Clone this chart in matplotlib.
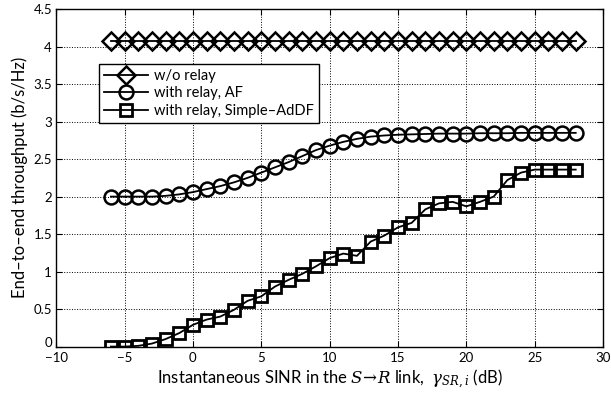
import numpy as np
import matplotlib.pyplot as plt

plt.rcParams['font.family'] = ['Lato', 'DejaVu Sans']
plt.rcParams['mathtext.fontset'] = 'dejavuserif'

# SINR del enlace S->R (dB)
snr = np.arange(-6, 29)

# Throughput extremo a extremo (b/s/Hz)
no_relay = [4.08] * 35
relay_af = [2.00, 2.00, 2.00, 2.00, 2.01, 2.03, 2.06, 2.10, 2.14, 2.19,
            2.25, 2.32, 2.39, 2.46, 2.54, 2.62, 2.68, 2.73, 2.77, 2.80,
            2.815, 2.825, 2.83, 2.835, 2.84, 2.84, 2.84, 2.845, 2.845, 2.845,
            2.85, 2.85, 2.85, 2.85, 2.85]
relay_addf = [0.00, 0.00, 0.01, 0.04, 0.10, 0.18, 0.29, 0.36, 0.40, 0.49,
              0.61, 0.67, 0.80, 0.89, 0.97, 1.07, 1.18, 1.24, 1.21, 1.40,
              1.48, 1.59, 1.65, 1.83, 1.91, 1.93, 1.87, 1.93, 2.00, 2.22,
              2.32, 2.36, 2.36, 2.36, 2.36]

fig = plt.figure(figsize=(6.11, 3.97), dpi=100)
ax = fig.add_axes([0.092, 0.127, 0.895, 0.85])

ax.plot(snr, no_relay, 'k-D', lw=1.3, ms=9, mfc='none', mew=1.8, label='w/o relay')
ax.plot(snr, relay_af, 'k-o', lw=1.3, ms=10, mfc='none', mew=1.8, label='with relay, AF')
ax.plot(snr, relay_addf, 'k-s', lw=1.3, ms=9, mfc='none', mew=2.0,
        label='with relay, Simple\u2013AdDF')

ax.set_xlim(-10, 30)
ax.set_ylim(0, 4.5)
ax.set_xticks(np.arange(-10, 31, 5))
ax.set_yticks(np.arange(0, 4.6, 0.5))
ax.set_xticklabels(['\u221210', '\u22125', '0', '5', '10', '15', '20', '25', '30'])
ax.set_yticklabels(['0', '0.5', '1', '1.5', '2', '2.5', '3', '3.5', '4', '4.5'])
ax.tick_params(direction='in', labelsize=9.5, length=4, top=True, right=True)
ax.tick_params(axis='x', pad=4)
ax.tick_params(axis='y', pad=3)
# el "0" del eje y un poco mas arriba para no chocar con "-10"
ax.get_yticklabels()[0].set_verticalalignment('baseline')
ax.grid(True, color='k', ls=':', lw=0.7)
for s in ax.spines.values():
    s.set_linewidth(1.0)

ax.set_xlabel(r'Instantaneous SINR in the $S\!\rightarrow\!R$ link,  $\gamma_{SR,i}$ (dB)',
              fontsize=12, labelpad=3)
ax.set_ylabel('End\u2013to\u2013end throughput (b/s/Hz)', fontsize=12, labelpad=4)

leg = ax.legend(loc='upper left', bbox_to_anchor=(0.065, 0.86), fontsize=10.5,
                fancybox=False, framealpha=1, edgecolor='k', handlelength=3.0,
                borderpad=0.35, labelspacing=0.25, handletextpad=0.4)
leg.get_frame().set_linewidth(1.0)

fig.savefig('out.png', dpi=100)
